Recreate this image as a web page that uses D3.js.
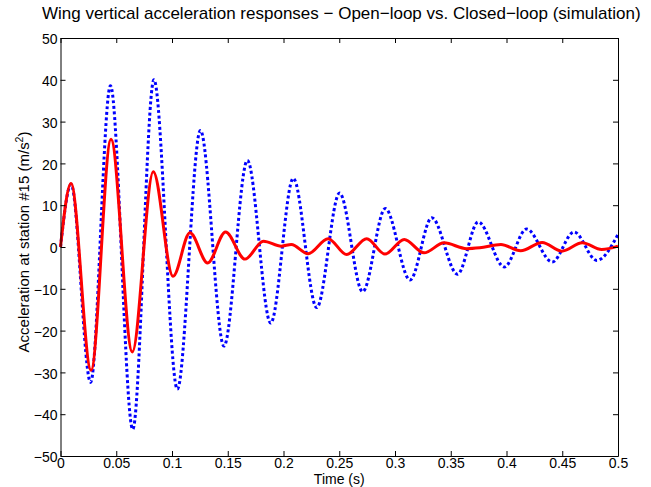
<!DOCTYPE html>
<html>
<head>
<meta charset="utf-8">
<script src="https://cdn.jsdelivr.net/npm/d3@7"></script>
<style>
  body { margin: 0; background: #fff; }
  svg { display: block; font-family: "Liberation Sans", Arial, sans-serif; }
</style>
</head>
<body>
<div id="chart"></div>
<script>
// Open-loop response (blue dotted) at peaks / troughs
const timeOpen = [0, 0.0095, 0.027, 0.0448, 0.0648, 0.0838, 0.1048, 0.1255, 0.1466, 0.1676,
  0.1885, 0.2088, 0.2298, 0.2503, 0.271, 0.2913, 0.3135, 0.333, 0.356, 0.3747,
  0.398, 0.418, 0.441, 0.4605, 0.481, 0.5];
const accelOpen = [0, 15.0, -32.4, 38.6, -43.6, 40.0, -34.0, 27.9, -23.7, 20.7,
  -18.2, 16.4, -14.5, 12.9, -10.7, 9.2, -7.9, 7.0, -6.5, 6.0,
  -4.8, 4.3, -3.6, 3.6, -3.2, 3.0];

// Closed-loop response (red solid)
const timeClosed = [0, 0.0094, 0.0274, 0.0453, 0.0644, 0.0832, 0.1009, 0.1161, 0.132, 0.148,
  0.1655, 0.182, 0.198, 0.207, 0.222, 0.240, 0.2567, 0.2746, 0.291, 0.3083,
  0.326, 0.344, 0.3643, 0.376, 0.395, 0.4127, 0.432, 0.4495, 0.468, 0.4854, 0.5];
const accelClosed = [0, 15.2, -29.5, 25.8, -25.1, 18.0, -7.0, 3.4, -3.8, 3.6,
  -2.9, 1.4, 0.2, 0.6, -1.6, 2.0, -1.8, 2.0, -1.7, 1.8,
  -1.4, 1.0, -0.4, -0.2, 0.6, -0.9, 1.1, -1.0, 1.0, -0.6, 0.2];

const xTicks = [0, 0.05, 0.1, 0.15, 0.2, 0.25, 0.3, 0.35, 0.4, 0.45, 0.5];
const xTickLabels = ['0', '0.05', '0.1', '0.15', '0.2', '0.25', '0.3', '0.35', '0.4', '0.45', '0.5'];
const yTicks = [-50, -40, -30, -20, -10, 0, 10, 20, 30, 40, 50];
const yTickLabels = ['\u221250', '\u221240', '\u221230', '\u221220', '\u221210', '0', '10', '20', '30', '40', '50'];

const titleText = 'Wing vertical acceleration responses \u2212 Open\u2212loop vs. Closed\u2212loop (simulation)';
const xLabelText = 'Time (s)';

function drawChart() {
  const W = 651, H = 487;
  const margin = { top: 38, right: 33, bottom: 31, left: 60.5 };
  const width = W - margin.left - margin.right;
  const height = H - margin.top - margin.bottom;

  const svg = d3.select('#chart')
    .append('svg')
    .attr('width', W)
    .attr('height', H);

  svg.append('rect').attr('width', W).attr('height', H).attr('fill', '#fff');

  const g = svg.append('g')
    .attr('transform', `translate(${margin.left},${margin.top})`);

  const x = d3.scaleLinear().domain([0, 0.5]).range([0, width]);
  const y = d3.scaleLinear().domain([-50, 50]).range([height, 0]);

  // lines
  const line = d3.line().curve(d3.curveMonotoneX);

  const openPts = timeOpen.map((t, i) => [x(t), y(accelOpen[i])]);
  const closedPts = timeClosed.map((t, i) => [x(t), y(accelClosed[i])]);

  g.append('path')
    .attr('d', line(openPts))
    .attr('fill', 'none')
    .attr('stroke', '#0000ff')
    .attr('stroke-width', 3)
    .attr('stroke-dasharray', '3,2.6');

  g.append('path')
    .attr('d', line(closedPts))
    .attr('fill', 'none')
    .attr('stroke', '#ff0000')
    .attr('stroke-width', 3)
    .attr('stroke-linejoin', 'round');

  // axes (ticks pointing inward, box on)
  const fmtX = d => xTickLabels[xTicks.indexOf(d)];
  const fmtY = d => yTickLabels[yTicks.indexOf(d)];

  const bottomAxis = g.append('g')
    .attr('transform', `translate(0,${height})`)
    .call(d3.axisBottom(x).tickValues(xTicks).tickFormat(fmtX).tickSizeInner(-5).tickSizeOuter(0).tickPadding(2));

  g.append('g')
    .call(d3.axisTop(x).tickValues(xTicks).tickFormat('').tickSizeInner(-5).tickSizeOuter(0));

  const leftAxis = g.append('g')
    .call(d3.axisLeft(y).tickValues(yTicks).tickFormat(fmtY).tickSizeInner(-5).tickSizeOuter(0).tickPadding(3));

  g.append('g')
    .attr('transform', `translate(${width},0)`)
    .call(d3.axisRight(y).tickValues(yTicks).tickFormat('').tickSizeInner(-5).tickSizeOuter(0));

  g.selectAll('.domain').attr('stroke', '#000').attr('stroke-width', 1);
  g.selectAll('.tick line').attr('stroke', '#000');
  g.selectAll('.tick text')
    .attr('fill', '#000')
    .style('font-size', '14px')
    .style('font-family', '"Liberation Sans", Arial, sans-serif');
  bottomAxis.selectAll('.tick text').attr('dy', '0.71em');
  leftAxis.selectAll('.tick text').attr('dy', '0.4em');

  // title
  svg.append('text')
    .attr('x', margin.left + width / 2 + 2)
    .attr('y', 19)
    .attr('text-anchor', 'middle')
    .style('font-size', '17px')
    .text(titleText);

  // x label
  svg.append('text')
    .attr('x', margin.left + width / 2)
    .attr('y', 484)
    .attr('text-anchor', 'middle')
    .style('font-size', '14px')
    .text(xLabelText);

  // y label with superscript
  const yl = svg.append('text')
    .attr('transform', `translate(29,${margin.top + height / 2 - 5}) rotate(-90)`)
    .attr('text-anchor', 'middle')
    .style('font-size', '15px');
  yl.append('tspan').text('Acceleration at station #15 (m/s');
  yl.append('tspan').attr('dy', -6).style('font-size', '10.5px').text('2');
  yl.append('tspan').attr('dy', 6).text(')');
}

document.addEventListener('DOMContentLoaded', drawChart);
</script>
</body>
</html>
